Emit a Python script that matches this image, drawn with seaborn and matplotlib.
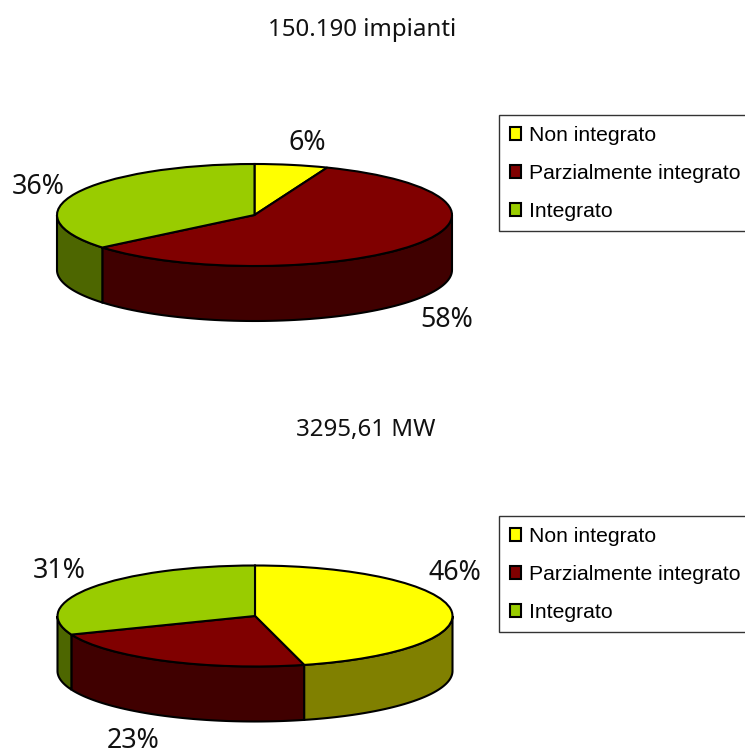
import numpy as np
import matplotlib
matplotlib.use('Agg')
import matplotlib.pyplot as plt
from matplotlib.patches import Patch
import seaborn as sns

categories = ['Non integrato', 'Parzialmente integrato', 'Integrato']
impianti = [6, 58, 36]
potenza = [46, 23, 31]
title_impianti = '150.190 impianti'
title_potenza = '3295,61 MW'

top_colors = sns.color_palette(['#FFFF00', '#800000', '#99CC00'])
side_colors = sns.color_palette(['#808000', '#400000', '#4D6600'])

sns.set_theme(style='white')
W, H = 745, 751
fig = plt.figure(figsize=(W / 100, H / 100), dpi=100, facecolor='white')


def fake_3d_pie(values, cx, cy, rx, ry, depth):
    # axes in pixels, y squashed so the pie becomes an ellipse
    left, right = cx - 1.3 * rx, cx + 1.3 * rx
    top, bottom = cy - 1.3 * ry, cy + ry + depth + 20
    ax = fig.add_axes([left / W, 1 - bottom / H, (right - left) / W, (bottom - top) / H])
    d = depth / ry

    # walls first, only the front half of each slice shows
    edges = 90 - np.cumsum([0] + list(values)) * 3.6
    for i in range(len(values)):
        a0, a1 = edges[i + 1], edges[i]
        ranges = [(max(a0, -180), min(a1, 0)), (max(a0, -540), min(a1, -360))]
        for lo, hi in ranges:
            if hi <= lo:
                continue
            t = np.radians(np.linspace(lo, hi, 80))
            x = np.cos(t)
            y = np.sin(t)
            ax.fill(np.r_[x, x[::-1]], np.r_[y, y[::-1] - d],
                    facecolor=side_colors[i], edgecolor='black', lw=1.5, zorder=1)

    ax.pie(values, colors=top_colors, startangle=90, counterclock=False, radius=1,
           wedgeprops=dict(edgecolor='black', linewidth=1.5, zorder=2))
    ax.set_aspect('auto')
    ax.set_xlim(-1.3, 1.3)
    ax.set_ylim(-1 - d - 20 / ry, 1.3)
    ax.axis('off')


fake_3d_pie(impianti, 254.5, 215, 197.5, 51, 55)
fake_3d_pie(potenza, 255, 616, 197.5, 50.5, 55)


def px_text(x, y, s, size=19.3):
    fig.text(x / W, 1 - y / H, s, ha='center', va='center_baseline', fontsize=size,
             family='Noto Sans', color='#111111')


px_text(362, 27, title_impianti, 17.3)
px_text(366, 427, title_potenza, 17.3)
for x, y, s in [(307, 140, '6%'), (447, 317, '58%'), (38, 184, '36%'),
                (455, 569, '46%'), (133, 738, '23%'), (59, 568, '31%')]:
    px_text(x, y, s)

handles = [Patch(facecolor=c, edgecolor='black', linewidth=1.5) for c in top_colors]
for top_y in [115, 516]:
    fig.legend(handles, categories, loc='upper left',
               bbox_to_anchor=(499 / W, 1 - top_y / H), borderaxespad=0,
               prop=dict(family='Liberation Sans', size=15.2), fancybox=False,
               edgecolor='#333333', framealpha=1, handlelength=0.56, handleheight=0.56,
               handletextpad=0.36, labelspacing=0.9, borderpad=0.5,
               labelcolor='black')

fig.savefig('out.png', dpi=100)
